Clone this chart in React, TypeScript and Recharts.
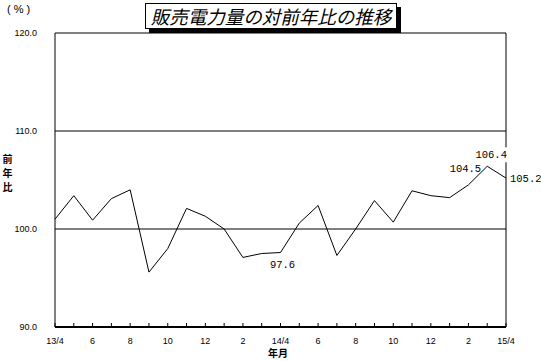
import { LineChart, Line, XAxis, YAxis, ReferenceLine, LabelList } from "recharts";

// 販売電力量の対前年比 (%), 2013/4 - 2015/4
const months = [
  "13/4", "5", "6", "7", "8", "9", "10", "11", "12", "1", "2", "3",
  "14/4", "5", "6", "7", "8", "9", "10", "11", "12", "1", "2", "3", "15/4",
];
const ratio = [
  101.0, 103.4, 100.9, 103.1, 104.0, 95.6, 98.0, 102.1, 101.3, 100.0, 97.1, 97.5,
  97.6, 100.6, 102.4, 97.3, 100.0, 102.9, 100.7, 103.9, 103.4, 103.2, 104.5, 106.4, 105.2,
];
const yTicks = [90, 100, 110, 120];
const labelled = [12, 22, 23, 24];

const data = months.map((m, i) => ({ i, month: m, value: ratio[i] }));
const xTicks = months.map((_, i) => i);

const smallFont = "'Liberation Sans', Arial, sans-serif";
const monoFont = "'Liberation Mono', 'DejaVu Sans Mono', monospace";
const jpFont = "'Noto Sans CJK JP', sans-serif";

function MonthTick(props: any) {
  const { x, y, payload } = props;
  const i = payload.value;
  return (
    <g>
      <line x1={x} y1={y} x2={x} y2={y - 4} stroke="#000" strokeWidth={1} />
      {i % 2 === 0 && (
        <text x={x} y={y + 17} textAnchor="middle" fontSize={9} fontFamily={smallFont} fill="#000">
          {months[i]}
        </text>
      )}
    </g>
  );
}

function ValueLabel(props: any) {
  const { x, y, index, value } = props;
  if (!labelled.includes(index)) return null;
  const txt = Number(value).toFixed(1);
  let tx = x, ty = y, anchor = "middle", bg = false;
  if (index === 12) { tx = x + 2; ty = y + 15; }
  else if (index === 22) { tx = x - 3; ty = y - 13; }
  else if (index === 23) { tx = x + 4; ty = y - 8; bg = true; }
  else if (index === 24) { tx = x + 4; ty = y + 4; anchor = "start"; }
  return (
    <g>
      {bg && <rect x={tx - 15} y={ty - 11} width={32} height={15} fill="#fff" />}
      <text x={tx} y={ty} textAnchor={anchor as any} fontSize={10.5} fontFamily={monoFont} fill="#000">
        {txt}
      </text>
    </g>
  );
}

export default function App() {
  return (
    <div style={{ position: "absolute", left: 0, top: 0, width: 541, height: 361, background: "#fff" }}>
      <LineChart width={541} height={361} data={data} margin={{ top: 33, right: 35, bottom: 0, left: 0 }}>
        <XAxis
          dataKey="i"
          type="number"
          domain={[0, 24]}
          ticks={xTicks}
          interval={0}
          height={34}
          tickSize={0}
          tickMargin={0}
          tickLine={false}
          axisLine={{ stroke: "#000", strokeWidth: 2 }}
          tick={<MonthTick />}
        />
        <YAxis
          type="number"
          domain={[90, 120]}
          ticks={yTicks}
          width={55}
          tickSize={0}
          tickMargin={18}
          tickLine={false}
          axisLine={{ stroke: "#000" }}
          tickFormatter={(v: number) => v.toFixed(1)}
          tick={{ fontSize: 9, fill: "#000", fontFamily: smallFont }}
        />
        <ReferenceLine y={120} stroke="#000" />
        <ReferenceLine y={110} stroke="#000" />
        <ReferenceLine y={100} stroke="#000" />
        <ReferenceLine x={24} stroke="#000" />
        <Line
          dataKey="value"
          type="linear"
          stroke="#000"
          strokeWidth={1}
          dot={false}
          isAnimationActive={false}
        >
          <LabelList dataKey="value" content={<ValueLabel />} />
        </Line>
      </LineChart>

      <div
        style={{
          position: "absolute", left: 145, top: 3, width: 250, height: 24,
          border: "1px solid #000", boxShadow: "4px 4px 0 #000", background: "#fff",
          fontFamily: jpFont, fontStyle: "italic", fontSize: 18.5, lineHeight: "24px",
          textAlign: "center", whiteSpace: "nowrap",
        }}
      >
        販売電力量の対前年比の推移
      </div>
      <div style={{ position: "absolute", left: 7, top: 3, fontFamily: smallFont, fontSize: 11, letterSpacing: 3 }}>
        (%)
      </div>
      {["前", "年", "比"].map((c, k) => (
        <div
          key={c}
          style={{
            position: "absolute", left: 2, top: 154 + k * 14, width: 11, height: 10,
            fontFamily: jpFont, fontSize: 10, lineHeight: "10px", fontWeight: 700, textAlign: "center",
          }}
        >
          {c}
        </div>
      ))}
      <div
        style={{
          position: "absolute", left: 268, top: 348, fontFamily: jpFont, fontSize: 10,
          lineHeight: "10px", fontWeight: 700,
        }}
      >
        年月
      </div>
    </div>
  );
}
